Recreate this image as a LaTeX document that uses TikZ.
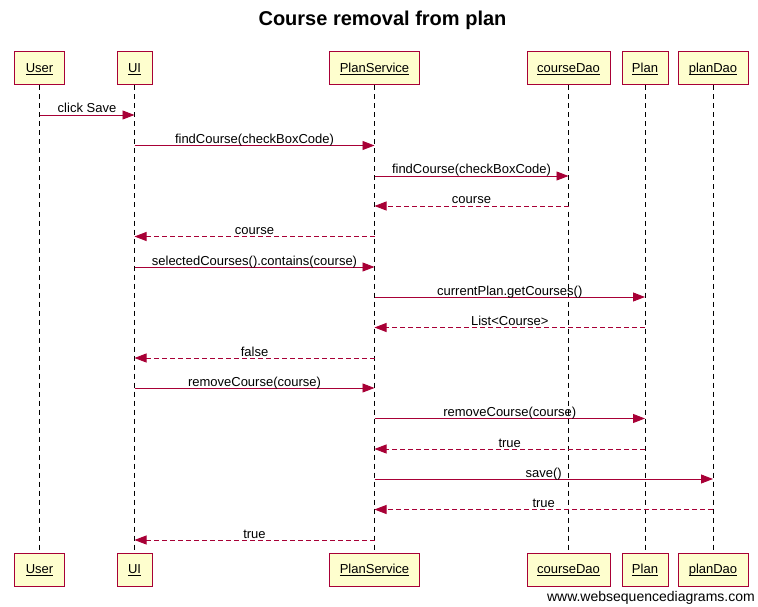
\documentclass[tikz,border=0pt]{standalone}
\usepackage{fontspec}
\setmainfont{Liberation Sans}
\usetikzlibrary{arrows.meta}
\definecolor{wsdred}{HTML}{A80036}
\definecolor{wsdfill}{HTML}{FEFECE}
\newcommand{\ulab}[1]{\underline{\raisebox{0pt}[\height][0pt]{#1}}}
\tikzset{
  actor/.style={draw=wsdred, fill=wsdfill, line width=1pt, minimum height=33pt, inner sep=0pt, text height=11pt, text depth=3pt, font=\fontsize{13}{15}\selectfont},
  lifeline/.style={draw=black, line width=0.9pt, dash pattern=on 5pt off 4pt},
  callmsg/.style={draw=wsdred, line width=0.9pt, -{Triangle[length=12pt,width=9pt]}},
  retmsg/.style={draw=wsdred, line width=0.9pt, dash pattern=on 5pt off 3pt, -{Triangle[length=12pt,width=9pt]}},
  msglabel/.style={anchor=base, inner sep=0pt, font=\fontsize{13}{15}\selectfont},
}
\newcommand{\wsdmsg}[6]{%
  \coordinate (#1s) at (#2,#4);
  \coordinate (#1e) at (#3,#4);
  \draw[#6] (#1s) -- (#1e);
  \node[msglabel] (#1l) at ({(#2+#3)/2},#4-2) {#5};
}
\begin{document}
\begin{tikzpicture}[x=1pt,y=-1pt]
\useasboundingbox (0,0) rectangle (758,607);
\node[font=\bfseries\fontsize{20}{24}\selectfont] (title) at (382.5,20) {Course removal from plan};
% top boxes
\node[actor, minimum width=50pt] (userT) at (39.5,68.5) {\ulab{User}};
\node[actor, minimum width=35pt] (uiT) at (134.5,68.5) {\ulab{UI}};
\node[actor, minimum width=90pt] (psT) at (374.5,68.5) {\ulab{PlanService}};
\node[actor, minimum width=83pt] (cdT) at (568.5,68.5) {\ulab{courseDao}};
\node[actor, minimum width=46pt] (plT) at (645,68.5) {\ulab{Plan}};
\node[actor, minimum width=70pt] (pdT) at (713,68.5) {\ulab{planDao}};
% bottom boxes
\node[actor, minimum width=50pt] (userB) at (39.5,569.5) {\ulab{User}};
\node[actor, minimum width=35pt] (uiB) at (134.5,569.5) {\ulab{UI}};
\node[actor, minimum width=90pt] (psB) at (374.5,569.5) {\ulab{PlanService}};
\node[actor, minimum width=83pt] (cdB) at (568.5,569.5) {\ulab{courseDao}};
\node[actor, minimum width=46pt] (plB) at (645,569.5) {\ulab{Plan}};
\node[actor, minimum width=70pt] (pdB) at (713,569.5) {\ulab{planDao}};
% lifelines
\draw[lifeline] (userT.south) -- (userB.north);
\draw[lifeline] (uiT.south) -- (uiB.north);
\draw[lifeline] (psT.south) -- (psB.north);
\draw[lifeline] (cdT.south) -- (cdB.north);
\draw[lifeline] (plT.south) -- (plB.north);
\draw[lifeline] (pdT.south) -- (pdB.north);
% messages
\wsdmsg{ma}{39.5}{134.5}{115}{click Save}{callmsg}
\wsdmsg{mb}{134.5}{374.5}{145.5}{findCourse(checkBoxCode)}{callmsg}
\wsdmsg{mc}{374.5}{568.5}{176}{findCourse(checkBoxCode)}{callmsg}
\wsdmsg{md}{568.5}{374.5}{206}{course}{retmsg}
\wsdmsg{me}{374.5}{134.5}{236.5}{course}{retmsg}
\wsdmsg{mf}{134.5}{374.5}{267}{selectedCourses().contains(course)}{callmsg}
\wsdmsg{mg}{374.5}{645}{297}{currentPlan.getCourses()}{callmsg}
\wsdmsg{mh}{645}{374.5}{327.5}{List<Course>}{retmsg}
\wsdmsg{mi}{374.5}{134.5}{358}{false}{retmsg}
\wsdmsg{mj}{134.5}{374.5}{388}{removeCourse(course)}{callmsg}
\wsdmsg{mk}{374.5}{645}{418.5}{removeCourse(course)}{callmsg}
\wsdmsg{ml}{645}{374.5}{449}{true}{retmsg}
\wsdmsg{mm}{374.5}{713}{479}{save()}{callmsg}
\wsdmsg{mn}{713}{374.5}{509.5}{true}{retmsg}
\wsdmsg{mo}{374.5}{134.5}{540}{true}{retmsg}
\node[anchor=base east, inner sep=0pt, font=\fontsize{14}{16}\selectfont] (wm) at (755,601) {www.websequencediagrams.com};
\end{tikzpicture}
\end{document}
